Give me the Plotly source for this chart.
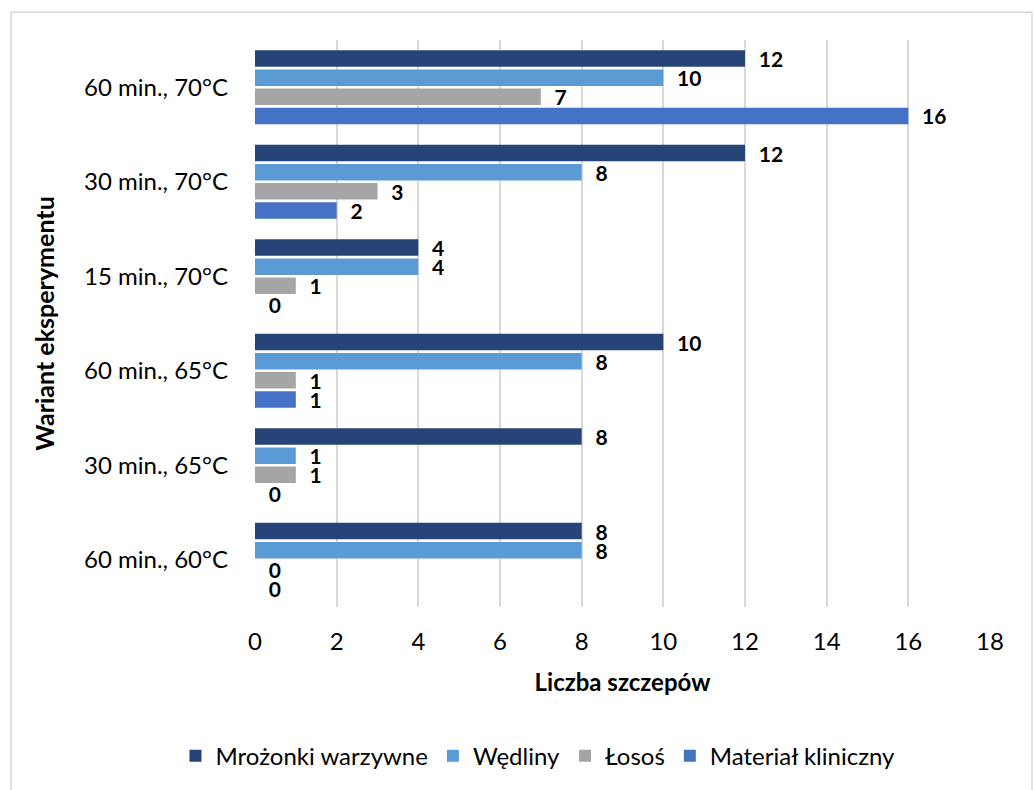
import plotly.graph_objects as go

# Experiment variants, listed from bottom to top of the chart
variants = ["60 min., 60°C", "30 min., 65°C", "60 min., 65°C",
            "15 min., 70°C", "30 min., 70°C", "60 min., 70°C"]

# Number of strains per source material, same order as variants
mrozonki = [8, 8, 10, 4, 12, 12]
wedliny = [8, 1, 8, 4, 8, 10]
losos = [0, 1, 1, 1, 3, 7]
kliniczny = [0, 0, 1, 0, 2, 16]

x_ticks = [0, 2, 4, 6, 8, 10, 12, 14, 16, 18]

FONT = "Lato"

# Traces are added bottom-up so the first series sits on top of each group
series = [
    ("Materiał kliniczny", kliniczny, "#4472C4"),
    ("Łosoś", losos, "#A5A5A5"),
    ("Wędliny", wedliny, "#5B9BD5"),
    ("Mrożonki warzywne", mrozonki, "#264478"),
]

fig = go.Figure()
for name, vals, color in series:
    fig.add_trace(go.Bar(
        name=name,
        y=variants,
        x=vals,
        orientation="h",
        marker=dict(color=color, line=dict(width=0)),
        texttemplate="\u00a0\u00a0<b>%{x}</b>",
        textposition="outside",
        constraintext="none",
        textangle=0,
        textfont=dict(family=FONT, size=21, color="#000000"),
        cliponaxis=False,
    ))

fig.update_layout(
    width=1035,
    height=790,
    barmode="group",
    bargap=0.19,
    bargroupgap=0.14,
    paper_bgcolor="#FFFFFF",
    plot_bgcolor="#FFFFFF",
    margin=dict(l=255, r=45, t=40, b=180),
    font=dict(family=FONT, size=24, color="#000000"),
    showlegend=True,
    legend=dict(
        orientation="h",
        traceorder="reversed",
        x=0.385,
        xanchor="center",
        y=-0.263,
        yanchor="middle",
        font=dict(family=FONT, size=24, color="#000000"),
        itemwidth=30,
    ),
    xaxis=dict(
        range=[0, 18],
        tickvals=x_ticks,
        showgrid=True,
        gridcolor="#D9D9D9",
        gridwidth=1.5,
        zeroline=False,
        showline=False,
        ticks="",
        tickfont=dict(family=FONT, size=24),
        ticklabelstandoff=18,
        title=dict(text="<b>Liczba szczepów</b>", font=dict(family=FONT, size=24), standoff=20),
    ),
    yaxis=dict(
        type="category",
        categoryorder="array",
        categoryarray=variants,
        showgrid=False,
        zeroline=False,
        showline=False,
        ticks="",
        tickfont=dict(family=FONT, size=24),
        ticklabelstandoff=26,
        title=dict(text="<b>Wariant eksperymentu</b>", font=dict(family=FONT, size=25), standoff=22),
    ),
)

# Outer chart frame
fig.add_shape(type="rect", xref="paper", yref="paper",
              x0=-244 / 735, x1=777 / 735, y0=-190 / 570, y1=1 + 28 / 570,
              line=dict(color="#D9D9D9", width=1.5), fillcolor="rgba(0,0,0,0)",
              layer="below")

fig.write_html("out.html")
